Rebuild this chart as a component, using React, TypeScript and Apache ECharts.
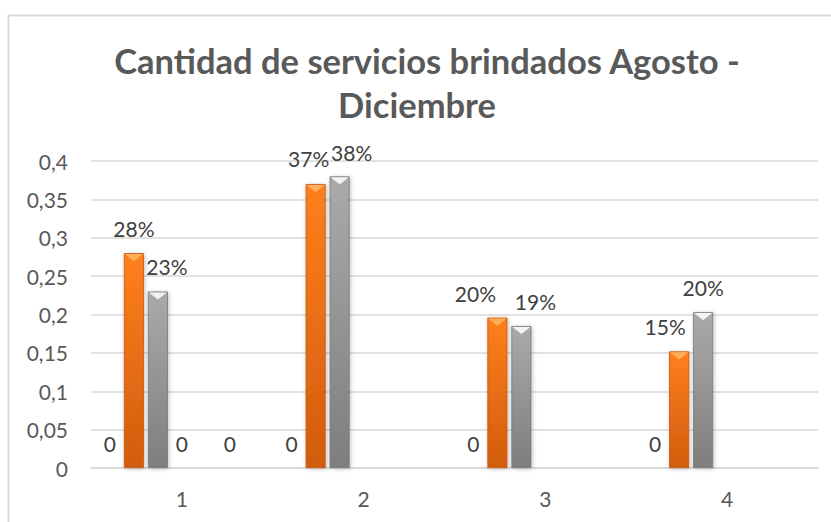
import React, { useEffect, useRef } from "react";
import * as echarts from "echarts";

const titleLine1 = "Cantidad de servicios brindados Agosto -";
const titleLine2 = "Diciembre";
const categories = ["1", "2", "3", "4"];
const zeroSeriesA = [0, 0, 0, 0];
const orangeValues = [0.28, 0.37, 0.196, 0.152];
const grayValues = [0.23, 0.38, 0.185, 0.203];
const zeroSeriesB = [0, null, null, null];
const emptySeriesC = [null, null, null, null];
const zeroSeriesD = [0, null, null, null];
const emptySeriesE = [null, null, null, null];
const orangeLabelShift = [[0, 0], [-7, -1], [-22, 0], [-14, 0]];
const grayLabelShift = [[9, 0], [12, 1], [14, 0], [0, 0]];

const FONT = "Lato, 'Open Sans', sans-serif";

export default function App() {
  const ref = useRef<HTMLDivElement>(null);
  useEffect(() => {
    if (!ref.current) return;
    const chart = echarts.init(ref.current, null, { renderer: "svg" });

    const pct = (p: any) => Math.round(p.value * 100) + "%";
    const baseLabel = {
      show: true,
      position: "top",
      distance: 14,
      fontFamily: FONT,
      fontSize: 21,
      color: "#404040",
    };
    const orangeGrad = new echarts.graphic.LinearGradient(0, 0, 0, 1, [
      { offset: 0, color: "#ff7f1c" },
      { offset: 1, color: "#d15c0d" },
    ]);
    const grayGrad = new echarts.graphic.LinearGradient(0, 0, 0, 1, [
      { offset: 0, color: "#aaaaaa" },
      { offset: 1, color: "#7e7e7e" },
    ]);
    const shadow = {
      shadowColor: "rgba(0,0,0,0.25)",
      shadowBlur: 4,
      shadowOffsetX: 1,
      shadowOffsetY: 1,
    };

    const zeroSeries = (data: any[]) => ({
      type: "bar",
      data,
      barWidth: 20,
      barGap: "20%",
      label: { ...baseLabel, formatter: () => "0" },
      itemStyle: { color: "#ff7f1c" },
    });

    const valueSeries = (vals: number[], shifts: number[][], grad: any, border: string) => ({
      type: "bar",
      barWidth: 20,
      barGap: "20%",
      data: vals.map((v, i) => ({
        value: v,
        label: { offset: shifts[i] },
      })),
      label: { ...baseLabel, formatter: pct },
      itemStyle: { color: grad, borderColor: border, borderWidth: 0.8, ...shadow },
    });

    const bevelSeries = (vals: (number | null)[], color: string) => ({
      type: "pictorialBar",
      barWidth: 20,
      barGap: "20%",
      symbol: "path://M0,0 L20,0 L10,8 Z",
      symbolSize: [18, 7],
      symbolPosition: "end",
      symbolOffset: [0, 1],
      silent: true,
      z: 5,
      itemStyle: { color },
      data: vals,
    });

    chart.setOption({
      animation: false,
      backgroundColor: "#ffffff",
      graphic: [
        {
          type: "rect",
          shape: { x: 8.5, y: 15.5, width: 900, height: 600 },
          style: { fill: "none", stroke: "#d9d9d9", lineWidth: 2 },
          silent: true,
        },
        {
          type: "text",
          x: 427,
          y: 60,
          style: {
            text: titleLine1,
            fontFamily: FONT,
            fontWeight: "bold",
            fontSize: 34.5,
            fill: "#595959",
            align: "center",
            verticalAlign: "middle",
          },
        },
        {
          type: "text",
          x: 417,
          y: 104,
          style: {
            text: titleLine2,
            fontFamily: FONT,
            fontWeight: "bold",
            fontSize: 34.5,
            fill: "#595959",
            align: "center",
            verticalAlign: "middle",
          },
        },
      ],
      grid: { left: 91, right: 13, top: 161, bottom: 54, containLabel: false },
      xAxis: {
        type: "category",
        data: categories,
        axisLine: { lineStyle: { color: "#d9d9d9", width: 2 } },
        axisTick: { show: false },
        axisLabel: { fontFamily: FONT, fontSize: 21, color: "#595959", margin: 20 },
      },
      yAxis: {
        type: "value",
        min: 0,
        max: 0.4,
        interval: 0.05,
        axisLine: { show: false },
        axisTick: { show: false },
        splitLine: { lineStyle: { color: "#d9d9d9", width: 1.5 } },
        axisLabel: {
          fontFamily: FONT,
          fontSize: 21,
          color: "#595959",
          margin: 23,
          formatter: (v: number) => {
            const s = String(Math.round(v * 100) / 100);
            return s.replace(".", ",");
          },
        },
      },
      series: [
        zeroSeries(zeroSeriesA),
        valueSeries(orangeValues, orangeLabelShift, orangeGrad, "#c4560c"),
        valueSeries(grayValues, grayLabelShift, grayGrad, "#767676"),
        zeroSeries(zeroSeriesB),
        zeroSeries(emptySeriesC),
        zeroSeries(zeroSeriesD),
        zeroSeries(emptySeriesE),
        bevelSeries(emptySeriesC, "#ffffff"),
        bevelSeries(orangeValues, "#ffae5c"),
        bevelSeries(grayValues, "#f2f2f2"),
        bevelSeries(emptySeriesC, "#ffffff"),
        bevelSeries(emptySeriesC, "#ffffff"),
        bevelSeries(emptySeriesC, "#ffffff"),
        bevelSeries(emptySeriesC, "#ffffff"),
      ],
    });
    return () => chart.dispose();
  }, []);
  return (
    <div
      ref={ref}
      style={{ position: "fixed", left: 0, top: 0, width: 831, height: 522, background: "#fff" }}
    />
  );
}
